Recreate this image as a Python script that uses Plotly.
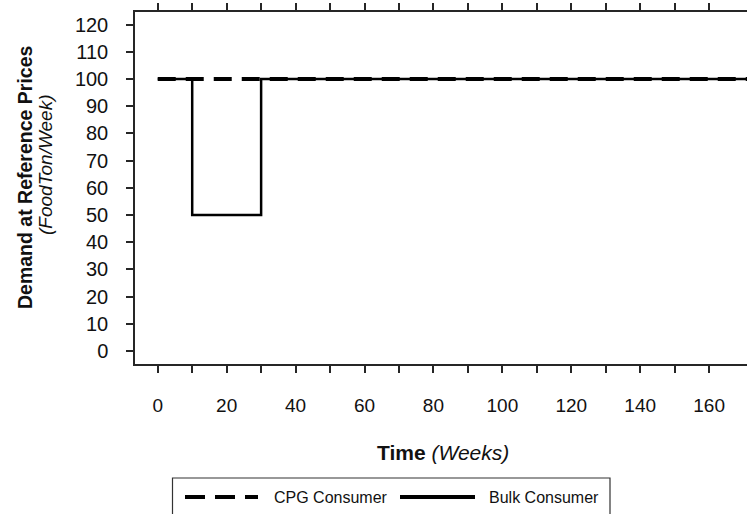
import plotly.graph_objects as go

# ---- data ----
time_cpg = [0, 10, 30, 200]
cpg_demand = [100, 100, 100, 100]
time_bulk = [0, 10, 10, 30, 30, 200]
bulk_demand = [100, 100, 50, 50, 100, 100]

series_names = ["CPG Consumer", "Bulk Consumer"]

x_ticks = list(range(0, 161, 10))
x_tick_labels = [str(v) if v % 20 == 0 else "" for v in x_ticks]
y_ticks = list(range(0, 121, 10))
y_tick_labels = [str(v) for v in y_ticks]

W, H = 747, 514
PL, PT, PB = 135, 11.7, 364
FONT = "Liberation Sans, Arial, sans-serif"
AX = "#262626"
TXT = "#111111"


def px(x):
    return x / W


def py(y):
    return 1 - y / H


fig = go.Figure()
fig.add_trace(go.Scatter(x=time_cpg, y=cpg_demand, mode="lines", name=series_names[0],
                         line=dict(color="black", width=4, dash="18px,10px")))
fig.add_trace(go.Scatter(x=time_bulk, y=bulk_demand, mode="lines", name=series_names[1],
                         line=dict(color="black", width=2.5)))

fig.update_layout(
    width=W, height=H, autosize=False,
    margin=dict(l=0, r=0, t=0, b=0, pad=0),
    paper_bgcolor="white", plot_bgcolor="white",
    font=dict(family=FONT, color=TXT),
    showlegend=False,
    xaxis=dict(domain=[px(PL), 1], range=[-6.6, 171.0], tickvals=x_ticks, ticktext=x_tick_labels,
               showline=True, linecolor=AX, linewidth=1.5, mirror="ticks",
               ticks="outside", ticklen=7, tickwidth=1.5, tickcolor=AX,
               showgrid=False, zeroline=False, tickfont=dict(size=19, family=FONT, color=TXT),
               ticklabelstandoff=16),
    yaxis=dict(domain=[py(PB), py(PT)], range=[-4.8, 124.8], tickvals=y_ticks,
               ticktext=y_tick_labels,
               showline=True, linecolor=AX, linewidth=1.5, mirror=False,
               ticks="outside", ticklen=7, tickwidth=1.5, tickcolor=AX,
               showgrid=False, zeroline=False, tickfont=dict(size=20, family=FONT, color=TXT),
               ticklabelstandoff=14),
)

# axis titles
fig.add_annotation(text="<b>Demand at Reference Prices</b>", xref="paper", yref="paper",
                   x=px(25), y=py(177), textangle=-90, showarrow=False,
                   font=dict(size=19.5, family=FONT, color=TXT), xanchor="center", yanchor="middle")
fig.add_annotation(text="<i>(FoodTon/Week)</i>", xref="paper", yref="paper",
                   x=px(46), y=py(165), textangle=-90, showarrow=False,
                   font=dict(size=19, family=FONT, color=TXT), xanchor="center", yanchor="middle")
fig.add_annotation(text="<b>Time</b> <i>(Weeks)</i>", xref="paper", yref="paper",
                   x=px(443), y=py(452), showarrow=False,
                   font=dict(size=21, family=FONT, color=TXT), xanchor="center", yanchor="middle")

# legend box (drawn as shapes/annotations to match the long line samples)
LY = 497
fig.add_shape(type="rect", xref="paper", yref="paper", x0=px(172.5), x1=px(610), y0=py(478), y1=py(520),
              line=dict(color="#333", width=1.2), fillcolor="white", layer="above")
fig.add_shape(type="line", xref="paper", yref="paper", x0=px(185), x1=px(258), y0=py(LY), y1=py(LY),
              line=dict(color="black", width=4, dash="20px,10px"))
fig.add_shape(type="line", xref="paper", yref="paper", x0=px(400), x1=px(475), y0=py(LY), y1=py(LY),
              line=dict(color="black", width=4))
fig.add_annotation(text=series_names[0], xref="paper", yref="paper", x=px(272), y=py(LY),
                   xanchor="left", yanchor="middle", showarrow=False,
                   font=dict(size=16, family=FONT, color=TXT))
fig.add_annotation(text=series_names[1], xref="paper", yref="paper", x=px(487), y=py(LY),
                   xanchor="left", yanchor="middle", showarrow=False,
                   font=dict(size=16, family=FONT, color=TXT))

fig.write_html("out.html", config={"displayModeBar": False},
               post_script="document.body.style.margin='0';")
